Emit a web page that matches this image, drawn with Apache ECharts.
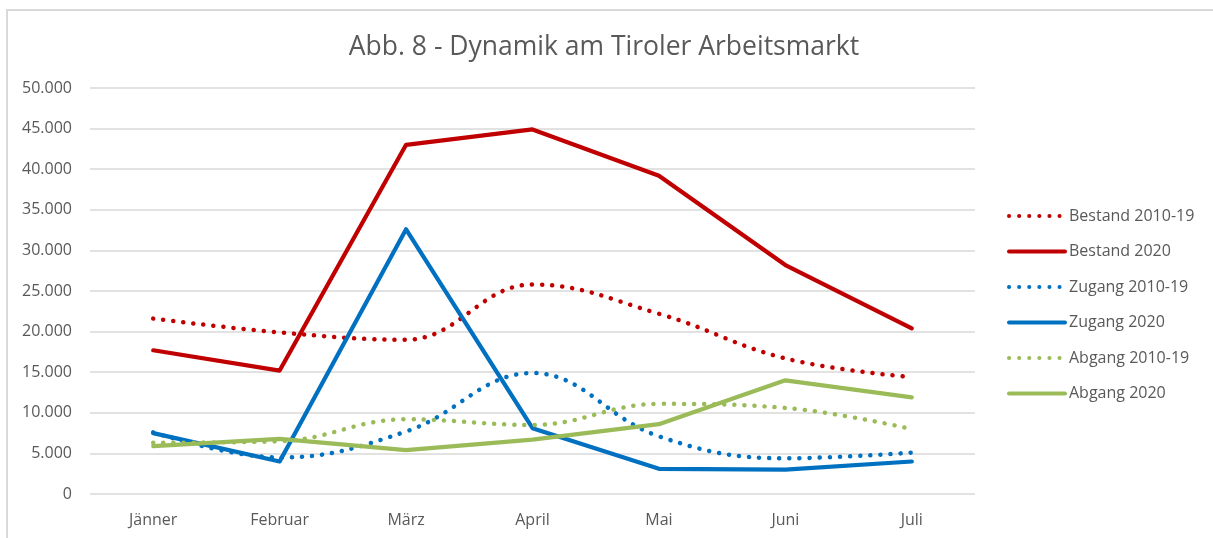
<!DOCTYPE html>
<html>
<head>
<meta charset="utf-8">
<title>Abb. 8 - Dynamik am Tiroler Arbeitsmarkt</title>
<script src="https://cdn.jsdelivr.net/npm/echarts@6/dist/echarts.min.js"></script>
<style>
    html, body { margin: 0; padding: 0; background: #fff; }
    #chart { width: 1213px; height: 538px; }
</style>
</head>
<body>
<div id="chart"></div>
<script>
// Monate (x-Achse)
const categories = ['Jänner', 'Februar', 'März', 'April', 'Mai', 'Juni', 'Juli'];

// Werte
const bestand1019 = [21600, 19900, 19000, 25800, 22200, 16700, 14400];
const bestand2020 = [17700, 15200, 43000, 44900, 39200, 28200, 20400];
const zugang1019 = [7600, 4500, 7700, 14900, 7100, 4400, 5100];
const zugang2020 = [7500, 4000, 32600, 8100, 3100, 3000, 4000];
const abgang1019 = [6300, 6500, 9200, 8500, 11100, 10600, 8000];
const abgang2020 = [5900, 6800, 5400, 6700, 8600, 14000, 11900];

// y-Achse
const yMin = 0;
const yMax = 50000;
const yStep = 5000;

const RED = '#C00000';
const BLUE = '#0070C0';
const GREEN = '#9BBB59';
const FONT = '"Open Sans", sans-serif';

// 50000 -> "50.000"
function fmt(v) {
    return String(v).replace(/\B(?=(\d{3})+(?!\d))/g, '.');
}

function makeSeries(name, data, color, dotted) {
    return {
        name: name,
        type: 'line',
        data: data,
        symbol: 'circle',
        showSymbol: false,
        smooth: dotted ? 0.4 : false,
        lineStyle: {
            color: color,
            width: dotted ? 4.5 : 4.2,
            type: dotted ? [0.1, 10] : 'solid',
            cap: 'round',
            join: 'round'
        },
        itemStyle: { color: color },
        emphasis: { disabled: true }
    };
}

let myChart = echarts.init(document.getElementById('chart'), null, { renderer: 'canvas' });

let option = {
    animation: false,
    backgroundColor: '#fff',
    title: {
        text: 'Abb. 8 - Dynamik am Tiroler Arbeitsmarkt',
        left: 599,
        textAlign: 'center',
        top: 29,
        textStyle: {
            fontFamily: FONT,
            fontSize: 26.5,
            fontWeight: 'normal',
            color: '#595959'
        }
    },
    legend: {
        orient: 'vertical',
        left: 1007,
        top: 208,
        padding: 0,
        itemWidth: 56,
        itemHeight: 16,
        itemGap: 19.5,
        // nur die Linie zeigen, kein Punkt
        itemStyle: { opacity: 0 },
        lineStyle: { width: 4 },
        textStyle: {
            fontFamily: FONT,
            fontSize: 16,
            color: '#595959',
            padding: [0, 0, 0, -1]
        },
        data: ['Bestand 2010-19', 'Bestand 2020', 'Zugang 2010-19', 'Zugang 2020', 'Abgang 2010-19', 'Abgang 2020']
    },
    grid: {
        left: 90,
        right: 238,
        top: 88,
        bottom: 44,
        containLabel: false
    },
    xAxis: {
        type: 'category',
        data: categories,
        boundaryGap: true,
        axisLine: { show: false },
        axisTick: { show: false },
        axisLabel: {
            margin: 18,
            fontFamily: FONT,
            fontSize: 16,
            color: '#595959'
        }
    },
    yAxis: {
        type: 'value',
        min: yMin,
        max: yMax,
        interval: yStep,
        axisLine: { show: false },
        axisTick: { show: false },
        splitLine: { lineStyle: { color: '#D9D9D9', width: 1.5 } },
        axisLabel: {
            margin: 18,
            fontFamily: FONT,
            fontSize: 16,
            color: '#595959',
            formatter: fmt
        }
    },
    graphic: [{
        // Rahmen (rechts/unten abgeschnitten)
        type: 'rect',
        silent: true,
        shape: { x: 7, y: 10, width: 1400, height: 800 },
        style: { fill: 'none', stroke: '#D9D9D9', lineWidth: 2 }
    }],
    series: [
        makeSeries('Bestand 2010-19', bestand1019, RED, true),
        makeSeries('Bestand 2020', bestand2020, RED, false),
        makeSeries('Zugang 2010-19', zugang1019, BLUE, true),
        makeSeries('Zugang 2020', zugang2020, BLUE, false),
        makeSeries('Abgang 2010-19', abgang1019, GREEN, true),
        makeSeries('Abgang 2020', abgang2020, GREEN, false)
    ]
};

myChart.setOption(option);
</script>
</body>
</html>
